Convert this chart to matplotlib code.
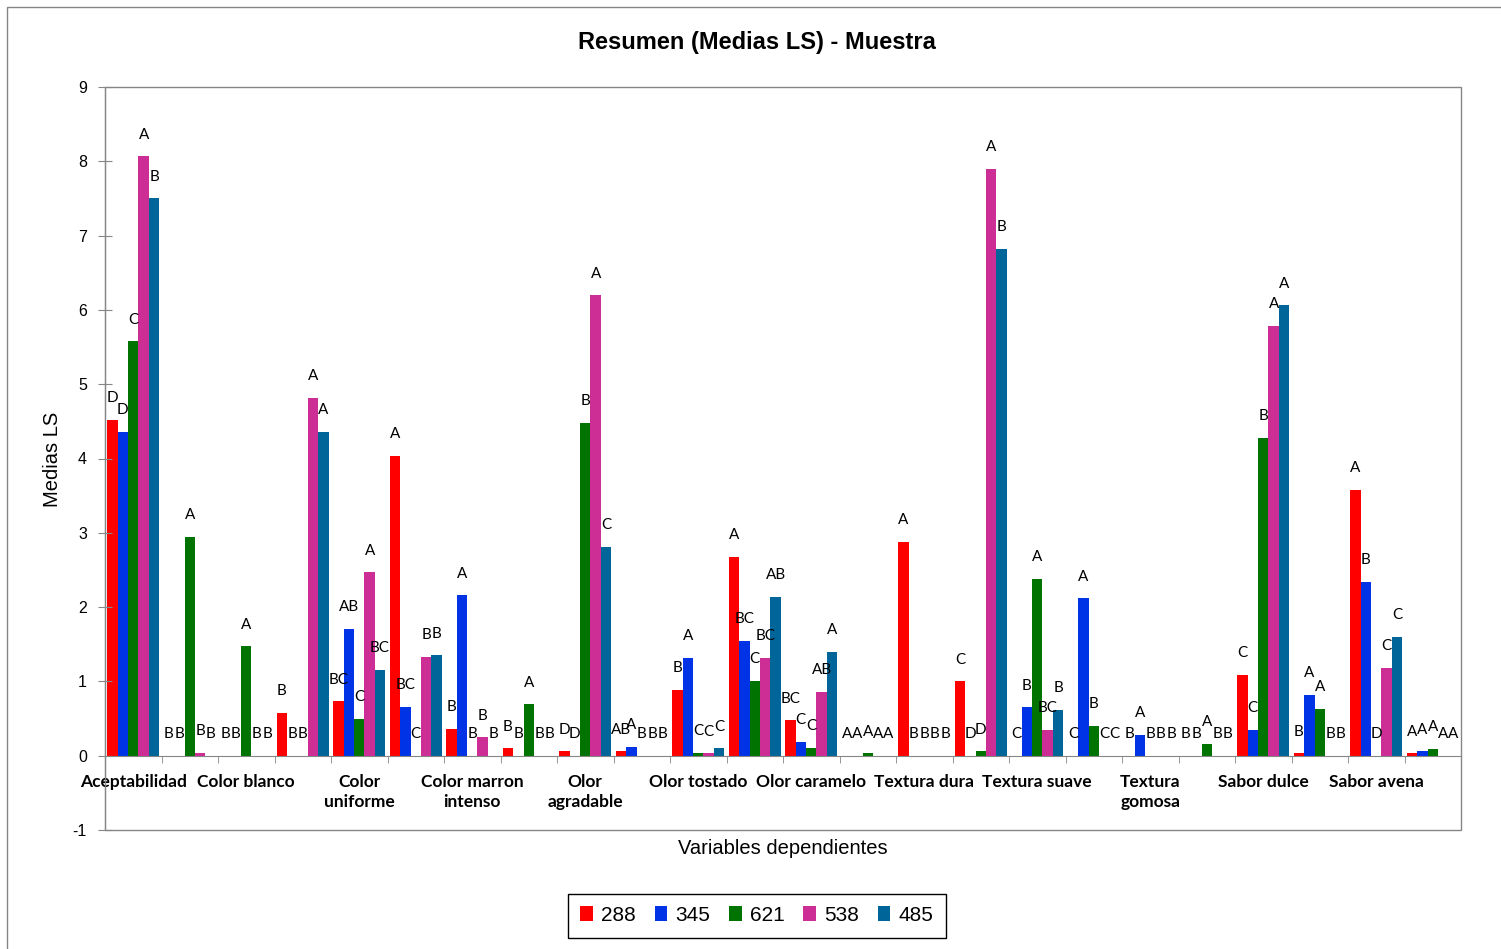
import numpy as np
import matplotlib
matplotlib.use('Agg')
import matplotlib.pyplot as plt
from matplotlib.patches import Rectangle, Patch

plt.rcParams['axes.unicode_minus'] = False

# Categorías (solo se muestran las de índice par)
categorias = ['Aceptabilidad', '', 'Color blanco', '', 'Color\nuniforme', '',
              'Color marron\nintenso', '', 'Olor\nagradable', '', 'Olor tostado', '',
              'Olor caramelo', '', 'Textura dura', '', 'Textura suave', '',
              'Textura\ngomosa', '', 'Sabor dulce', '', 'Sabor avena', '']

series = ['288', '345', '621', '538', '485']

m288 = [4.52, 0, 0, 0.58, 0.73, 4.04, 0.36, 0.10, 0.06, 0.06, 0.89, 2.68,
        0.48, 0, 2.88, 1.00, 0, 0, 0, 0, 1.09, 0.03, 3.58, 0.03]
m345 = [4.36, 0, 0, 0, 1.71, 0.66, 2.16, 0, 0, 0.12, 1.32, 1.55,
        0.19, 0, 0, 0, 0.65, 2.12, 0.28, 0, 0.35, 0.82, 2.34, 0.06]
m621 = [5.58, 2.95, 1.47, 0, 0.50, 0, 0, 0.69, 4.48, 0, 0.04, 1.01,
        0.11, 0.03, 0, 0.06, 2.38, 0.40, 0, 0.16, 4.28, 0.63, 0, 0.09]
m538 = [8.07, 0.04, 0, 4.82, 2.47, 1.33, 0.25, 0, 6.20, 0, 0.03, 1.32,
        0.86, 0, 0, 7.90, 0.35, 0, 0, 0, 5.79, 0, 1.18, 0]
m485 = [7.50, 0, 0, 4.36, 1.16, 1.35, 0, 0, 2.81, 0, 0.10, 2.14,
        1.40, 0, 0, 6.82, 0.62, 0, 0, 0, 6.06, 0, 1.60, 0]

# Letras de significancia
l288 = ['D', 'B', 'B', 'B', 'BC', 'A', 'B', 'B', 'D', 'AB', 'B', 'A',
        'BC', 'A', 'A', 'C', 'C', 'C', 'B', 'B', 'C', 'B', 'A', 'A']
l345 = ['D', 'B', 'B', 'B', 'AB', 'BC', 'A', 'B', 'D', 'A', 'A', 'BC',
        'C', 'A', 'B', 'D', 'B', 'A', 'A', 'B', 'C', 'A', 'B', 'A']
l621 = ['C', 'A', 'A', 'B', 'C', 'C', 'B', 'A', 'B', 'B', 'C', 'C',
        'C', 'A', 'B', 'D', 'A', 'B', 'B', 'A', 'B', 'A', 'D', 'A']
l538 = ['A', 'B', 'B', 'A', 'A', 'B', 'B', 'B', 'A', 'B', 'C', 'BC',
        'AB', 'A', 'B', 'A', 'BC', 'C', 'B', 'B', 'A', 'B', 'C', 'A']
l485 = ['B', 'B', 'B', 'A', 'BC', 'B', 'B', 'B', 'C', 'B', 'C', 'AB',
        'A', 'A', 'B', 'B', 'B', 'C', 'B', 'B', 'A', 'B', 'C', 'A']

valores = [m288, m345, m621, m538, m485]
letras = [l288, l345, l621, l538, l485]
colores = ['#FF0000', '#0033E6', '#007300', '#CC2E96', '#006699']
gris = '#868686'

fig = plt.figure(figsize=(15.01, 9.49), dpi=100)
ax = fig.add_axes([105 / 1501, 119 / 949, 1356 / 1501, 743 / 949])

x = np.arange(len(categorias))
w = 0.184
for j in range(5):
    xs = x + (j - 2) * w
    ax.bar(xs, valores[j], width=w, color=colores[j], linewidth=0)
    for xi, v, t in zip(xs, valores[j], letras[j]):
        ax.annotate(t, (xi, v), xytext=(0, 15.5), textcoords='offset points',
                    ha='center', va='center', fontsize=11, family='Lato')

ax.set_xlim(-0.5, len(categorias) - 0.5)
ax.set_ylim(-1, 9)
ax.set_yticks(range(-1, 10))

# Eje de categorías cruzando en 0
for s in ['top', 'right']:
    ax.spines[s].set_visible(False)
ax.spines['bottom'].set_position(('data', 0))
ax.spines['bottom'].set_color(gris)
ax.spines['left'].set_color(gris)
ax.add_patch(Rectangle((0, 0), 1, 1, transform=ax.transAxes, fill=False,
                       edgecolor=gris, linewidth=1, clip_on=False))

ax.set_xticks(x)
ax.set_xticklabels(categorias, fontsize=12.5, fontweight='bold', family='Lato',
                   linespacing=1.35)
ax.set_xticks(np.arange(-0.5, len(categorias), 1), minor=True)
ax.tick_params(axis='x', which='major', length=0, pad=13)
ax.tick_params(axis='x', which='minor', length=5, color=gris, direction='out')
ax.tick_params(axis='y', direction='inout', length=10, color=gris, pad=8,
               labelsize=11.5)
for lab in ax.get_yticklabels():
    lab.set_family('Liberation Sans')

fig.text(757 / 1501, 1 - 42 / 949, 'Resumen (Medias LS) - Muestra', ha='center',
         va='center', fontsize=17, fontweight='bold', family='Liberation Sans')
fig.text(53 / 1501, 1 - 459 / 949, 'Medias LS', rotation=90, ha='center',
         va='center', fontsize=14.5, family='Liberation Sans')
fig.text(783 / 1501, 1 - 848 / 949, 'Variables dependientes', ha='center',
         va='center', fontsize=14.5, family='Liberation Sans')

# Borde del área del gráfico
fig.add_artist(Rectangle((7 / 1501, -0.02), 1.1, 1 - 7 / 949 + 0.02,
                         transform=fig.transFigure, fill=False,
                         edgecolor=gris, linewidth=1))

handles = [Patch(facecolor=c, edgecolor='none') for c in colores]
leg = fig.legend(handles, series, loc='center', ncol=5,
                 bbox_to_anchor=(757 / 1501, 1 - 915.5 / 949),
                 prop={'family': 'Liberation Sans', 'size': 15},
                 handlelength=0.6, handleheight=0.75, handletextpad=0.4,
                 columnspacing=0.9, fancybox=False, edgecolor='black',
                 borderpad=0.6, framealpha=1)
leg.get_frame().set_linewidth(1)

fig.savefig('out.png', dpi=100)
